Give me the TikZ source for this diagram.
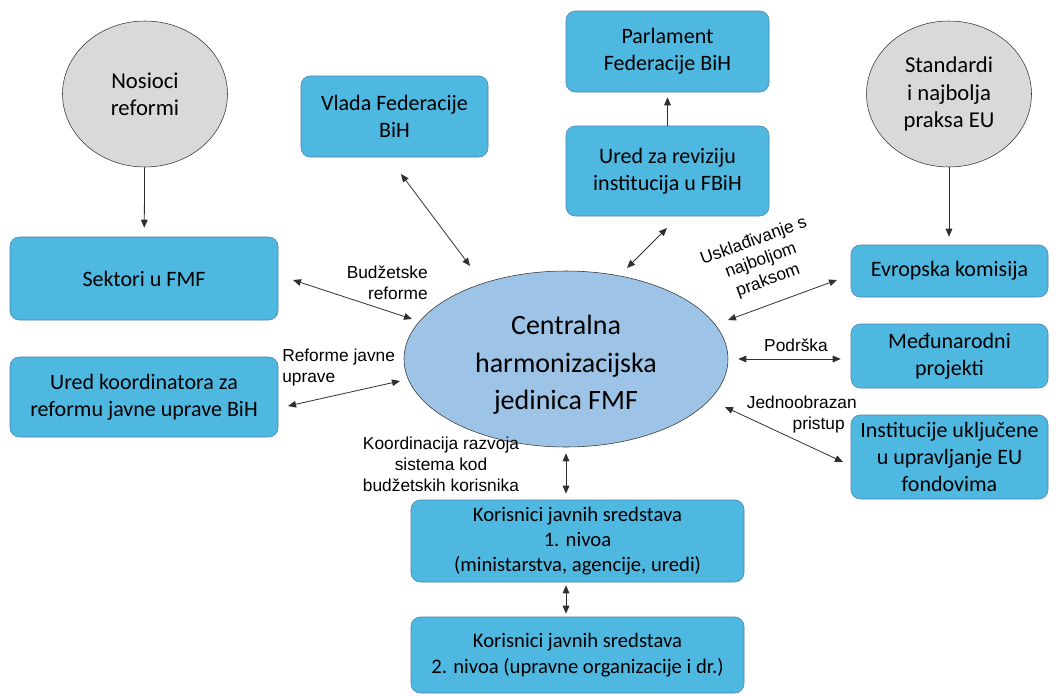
\documentclass[tikz,border=0pt]{standalone}
\usepackage{fontspec}
\usepackage{xcolor}
\usetikzlibrary{shapes.geometric,arrows.meta}
\setmainfont{Carlito}
\newfontfamily\lblfont{Liberation Sans}
\definecolor{boxplava}{HTML}{4FB8E0}
\definecolor{boxrub}{HTML}{4A80B0}
\definecolor{elipsa}{HTML}{9DC3E6}
\definecolor{siva}{HTML}{D9D9D9}
\definecolor{linija}{HTML}{303030}

\begin{document}
\begin{tikzpicture}[x=0.75pt,y=-0.75pt,
    box/.style={draw=boxrub,fill=boxplava,rounded corners=7pt,align=center,
        font=\fontsize{16.5}{20.5}\selectfont,inner sep=2pt},
    manjibox/.style={box,font=\fontsize{15.5}{19}\selectfont},
    krug/.style={ellipse,draw=linija,fill=siva,align=center,
        minimum width=123.75pt,minimum height=109.5pt,
        font=\fontsize{17}{20.5}\selectfont},
    lbl/.style={font=\lblfont\fontsize{13}{15.75}\selectfont,inner sep=0pt},
    veza/.style={draw=linija,line width=0.6pt,-{Triangle[length=6pt,width=5pt]}},
    dvo/.style={draw=linija,line width=0.6pt,{Triangle[length=6pt,width=5pt]}-{Triangle[length=6pt,width=5pt]}}]
            \useasboundingbox (0,0) rectangle (1058,696);
            % krugovi
            \node (nosioci) at (145,94) [krug] {Nosioci\\reformi};
            \node (standardi) at (949,94) [krug] {Standardi\\i najbolja\\praksa EU};
            % centar
            \node (chj) at (566,359) [ellipse,draw=linija,fill=elipsa,
                minimum width=243pt,minimum height=132pt] {};
            \node (chjtekst) at (566,365) [align=center,font=\fontsize{21}{28}\selectfont] {Centralna\\harmonizacijska\\jedinica FMF};
            % kutije
            \node (vlada) at (394.5,116.5) [box,minimum width=140.25pt,minimum height=60.75pt] {Vlada Federacije\\BiH};
            \node (parl) at (667.5,51.5) [box,minimum width=152.25pt,minimum height=60.75pt] {Parlament\\Federacije BiH};
            \node (revizija) at (667.5,171) [box,minimum width=152.25pt,minimum height=67.5pt] {Ured za reviziju\\institucija u FBiH};
            \node (sektori) at (144,278.5) [box,minimum width=201pt,minimum height=62.25pt] {Sektori u FMF};
            \node (koord) at (144,397) [box,minimum width=201pt,minimum height=60pt] {Ured koordinatora za\\reformu javne uprave BiH};
            \node (ek) at (949.5,271) [box,minimum width=147.75pt,minimum height=39pt] {Evropska komisija};
            \node (mp) at (949.5,356) [box,minimum width=147.75pt,minimum height=48pt] {Međunarodni\\projekti};
            \node (inst) at (949.5,457) [box,minimum width=147.75pt,minimum height=63pt] {Institucije uključene\\u upravljanje EU\\fondovima};
            \node (kor1) at (577.5,541) [manjibox,minimum width=249.75pt,minimum height=61.5pt] {Korisnici javnih sredstava\\1. nivoa\\(ministarstva, agencije, uredi)};
            \node (kor2) at (577.5,655) [manjibox,minimum width=249.75pt,minimum height=57pt] {Korisnici javnih sredstava\\2. nivoa (upravne organizacije i dr.)};
            % natpisi
            \node (lbudz) at (428,283) [lbl,anchor=east,align=right] {Budžetske\\reforme};
            \node (lref) at (282,368) [lbl,anchor=west,align=left] {Reforme javne\\uprave};
            \node (lusk) at (761,261) [lbl,align=center,rotate=20] {Usklađivanje s\\najboljom\\praksom};
            \node (lpod) at (796,345) [lbl] {Podrška};
            \node (ljed) at (857,415) [lbl,anchor=east,align=right] {Jednoobrazan\\pristup\hspace*{9pt}};
            \node (lkoo) at (441,464) [lbl,align=center] {Koordinacija razvoja\\sistema kod\\budžetskih korisnika};
            % krajevi kosih strelica
            \coordinate (v1) at (401,174);  \coordinate (v2) at (470,266);
            \coordinate (r1) at (667,228);  \coordinate (r2) at (627,268);
            \coordinate (s1) at (293,280);  \coordinate (s2) at (412,319);
            \coordinate (k1) at (288,406);  \coordinate (k2) at (400,381);
            \coordinate (e1) at (837,280);  \coordinate (e2) at (728,320);
            \coordinate (j1) at (725,407);  \coordinate (j2) at (843,462);
            % strelice
            \draw[veza,shorten >=6.75pt] (nosioci) -- (sektori);
            \draw[veza,shorten >=6pt] (standardi.south) -- (ek.north -| standardi.south);
            \draw[veza,shorten >=3.75pt] (revizija) -- (parl);
            \draw[dvo] (v1) -- (v2);
            \draw[dvo] (r1) -- (r2);
            \draw[dvo] (s1) -- (s2);
            \draw[dvo] (k1) -- (k2);
            \draw[dvo] (e1) -- (e2);
            \draw[dvo] (j1) -- (j2);
            \draw[dvo,shorten <=7.5pt,shorten >=7.5pt] (chj.east) -- (mp.west |- chj.east);
            \draw[dvo,shorten <=4.5pt,shorten >=4.5pt] (chj.south) -- (kor1.north -| chj.south);
            \draw[dvo,shorten <=2.25pt,shorten >=2.25pt] (kor1.south -| chj.south) -- (kor2.north -| chj.south);
        \end{tikzpicture}
\end{document}
